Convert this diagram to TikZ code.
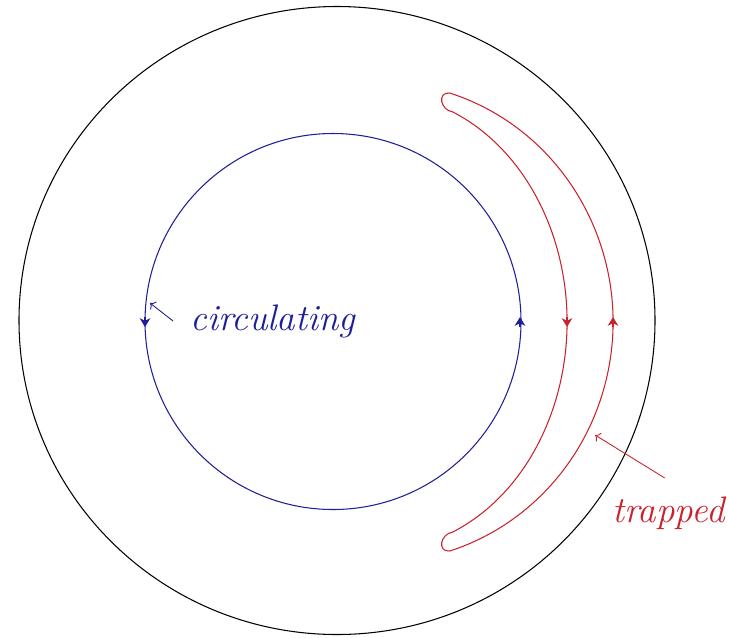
\documentclass[tikz,border=0pt]{standalone}
\usepackage{fontspec}
\usepackage{tikz}
\usetikzlibrary{arrows.meta}
\definecolor{orbitblue}{RGB}{30,30,150}
\definecolor{orbitred}{RGB}{200,35,45}

\begin{document}
\begin{tikzpicture}[x=0.2mm,y=-0.2mm,line width=0.6pt,
  lbl/.style={font=\fontsize{21}{25}\selectfont\itshape,inner sep=0pt,anchor=base west},
  dirarrow/.style={-{Stealth[length=5pt,width=6pt,inset=1.5pt]}},
  note/.style={->,line width=0.5pt}]
  \useasboundingbox (0,0) rectangle (729,637);
  % vessel wall
  \coordinate (axis) at (337,320.5);
  \draw (axis) ellipse [x radius=318,y radius=314];
  % circulating orbit
  \draw[orbitblue] (333,321.5) circle (188);
  % trapped (banana) orbit: two elliptic legs about (380,322), round tips
  \draw[orbitred] (449.7,93) arc[start angle=-72.6,end angle=72.6,x radius=233,y radius=240]
    .. controls (436.9,552) and (440.2,534) .. (452.8,532)
    arc[start angle=67.1,end angle=-67.1,x radius=187,y radius=228]
    .. controls (440.2,110) and (436.9,92) .. cycle;
  % sense of motion
  \foreach \px/\dy/\col in {145/1/orbitblue,520/-1/orbitblue,567/1/orbitred,613/-1/orbitred}
    \draw[\col,dirarrow] (\px,322-5*\dy) -- (\px,322+5*\dy);
  % labels
  \node[lbl,text=orbitblue] (circlbl) at (190,330) {circulating};
  \coordinate (circpt) at (150,303);
  \draw[note,orbitblue] ([xshift=-3.4mm]circlbl.west) -- (circpt);
  \node[lbl,text=orbitred] (traplbl) at (612,522) {trapped};
  \coordinate (trappt) at (595,435);
  \draw[note,orbitred] ([xshift=-0.8mm,yshift=3.6mm]traplbl.north) -- (trappt);
\end{tikzpicture}
\end{document}
